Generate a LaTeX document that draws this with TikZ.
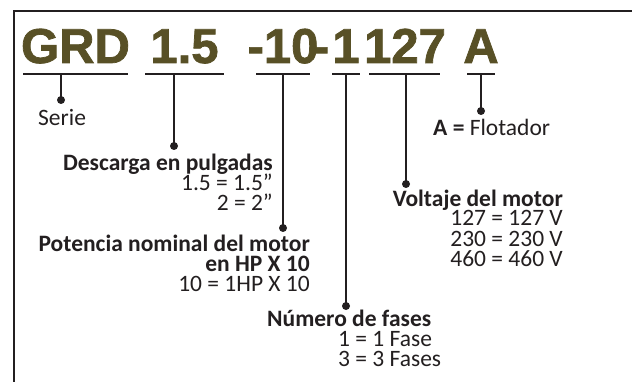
\documentclass[tikz,border=0pt]{standalone}
\usepackage{fontspec}
\setmainfont{Carlito}
\newfontfamily\titlefont[FakeBold=1.5]{Liberation Sans Bold}
\definecolor{titlecol}{HTML}{585026}
\definecolor{inkcol}{HTML}{231F20}
\tikzset{
  frameline/.style={draw=inkcol, line width=2.2pt},
  uline/.style={draw=inkcol, line width=2pt},
  lead/.style={draw=inkcol, line width=2pt},
  dot/.style={circle, fill=inkcol, inner sep=0pt, minimum size=8pt},
  ttl/.style={inner sep=0pt, anchor=base, text=titlecol, font=\titlefont\fontsize{49}{49}\selectfont},
  lbl/.style={inner sep=0pt, text=inkcol, font=\fontsize{23.5}{20}\selectfont,
    execute at begin node={\lineskiplimit=-30pt\lineskip=0pt}},
}
\begin{document}
\begin{tikzpicture}[x=1pt,y=-1pt]
\useasboundingbox (0,0) rectangle (632,382);
\fill[white] (0,0) rectangle (632,382);
% frame
\coordinate (fc) at (14,11);
\coordinate (fr) at (632,11);
\coordinate (fb) at (14,382);
\draw[frameline] (fr) -- (fc) -- (fb);
% title pieces
\node[ttl] (tGRD) at (75.5,63) {GRD};
\node[ttl] (t15) at (184.5,63) {1.5};
\node[ttl] (t10) at (283,63) {-10};
\node[ttl] (tdash) at (321,63) {-};
\node[ttl] (t1) at (346,63) {1};
\node[ttl] (t127) at (405,63) {127};
\node[ttl] (tA) at (481,63) {A};
% underlines
\coordinate (a1) at (23,74); \coordinate (b1) at (128,74);
\coordinate (a2) at (145,74); \coordinate (b2) at (224,74);
\coordinate (a3) at (256,74); \coordinate (b3) at (310,74);
\coordinate (a4) at (332,74); \coordinate (b4) at (360,74);
\coordinate (a5) at (369,74); \coordinate (b5) at (440,74);
\coordinate (a6) at (467,74); \coordinate (b6) at (495,74);
\foreach \i in {1,...,6} {\draw[uline] (a\i) -- (b\i);}
% leads and dots
\coordinate (u1) at (61,74);  \node[dot] (d1) at (61,100) {};
\coordinate (u2) at (174,74); \node[dot] (d2) at (174,146) {};
\coordinate (u3) at (283,74); \node[dot] (d3) at (283,228) {};
\coordinate (u4) at (346,74); \node[dot] (d4) at (346,306) {};
\coordinate (u5) at (406,74); \node[dot] (d5) at (406,184) {};
\coordinate (u6) at (481,74); \node[dot] (d6) at (481,111) {};
\foreach \i in {1,...,6} {\draw[lead] (u\i) -- (d\i.center);}
% labels (anchor = baseline of the last line)
\node[lbl, anchor=base west] (serie) at (38,126) {Serie};
\node[lbl, anchor=base west] (flot) at (433,136) {\textbf{A =} Flotador};
\node[lbl, align=right, anchor=base east] (desc) at (273,211)
  {\textbf{Descarga en pulgadas}\\1.5 = 1.5”\\2 = 2”};
\node[lbl, align=right, anchor=base east] (pot) at (310,291)
  {\textbf{Potencia nominal del motor}\\\textbf{en HP X 10}\\10 = 1HP X 10};
\node[lbl, align=left, anchor=base west] (num) at (267,366)
  {\textbf{Número de fases}\\\hspace*{71pt}1 = 1 Fase\\\hspace*{71pt}3 = 3 Fases};
\node[lbl, align=right, anchor=base east] (volt) at (563,266)
  {\textbf{Voltaje del motor}\\127 = 127 V\\230 = 230 V\\460 = 460 V};
\end{tikzpicture}
\end{document}
